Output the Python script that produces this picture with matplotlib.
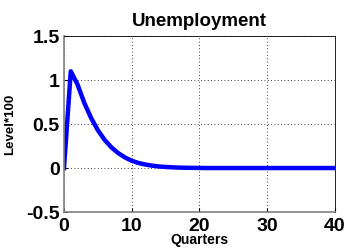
import matplotlib
matplotlib.use("Agg")
import matplotlib.pyplot as plt

quarters = list(range(0, 41))
unemp_head = [0.0, 1.10, 0.95, 0.74, 0.57, 0.43, 0.32, 0.235, 0.17, 0.12, 0.083,
              0.057, 0.04, 0.027, 0.018, 0.012, 0.008, 0.005, 0.003, 0.002, 0.001]
unemployment = unemp_head + [0.0] * (len(quarters) - len(unemp_head))

xticks = [0, 10, 20, 30, 40]
yticks = [-0.5, 0, 0.5, 1, 1.5]
yticklabels = ["-0.5", "0", "0.5", "1", "1.5"]

plt.rcParams['font.family'] = ['Liberation Sans', 'DejaVu Sans']
fig = plt.figure(figsize=(3.47, 2.52), dpi=100)
ax = fig.add_axes([0.1844, 0.1587, 0.781, 0.698])
ax.plot(quarters, unemployment, color='#0000ff', linewidth=3.2, solid_joinstyle='round')
ax.set_xlim(0, 40)
ax.set_ylim(-0.5, 1.5)
ax.set_xticks(xticks)
ax.set_yticks(yticks)
ax.set_yticklabels(yticklabels)
ax.grid(True, linestyle=(0, (1, 3)), color='black', linewidth=0.6)
ax.tick_params(direction='in', length=3, labelsize=14)
ax.tick_params(axis='x', pad=4)
ax.tick_params(axis='y', pad=3)
for lab in ax.get_xticklabels() + ax.get_yticklabels():
    lab.set_fontweight('bold')
for s in ['top', 'right']:
    ax.spines[s].set_color('black')
    ax.spines[s].set_linewidth(0.6)
for s in ['left', 'bottom']:
    ax.spines[s].set_color('#808080')
    ax.spines[s].set_linewidth(1.2)
ax.set_title('Unemployment', fontsize=13.5, fontweight='bold', pad=7)
ax.set_xlabel('Quarters', fontsize=10, fontweight='bold', labelpad=-1)
ax.set_ylabel('Level*100', fontsize=9.5, fontweight='bold', labelpad=7)
fig.savefig('out.png', dpi=100)
